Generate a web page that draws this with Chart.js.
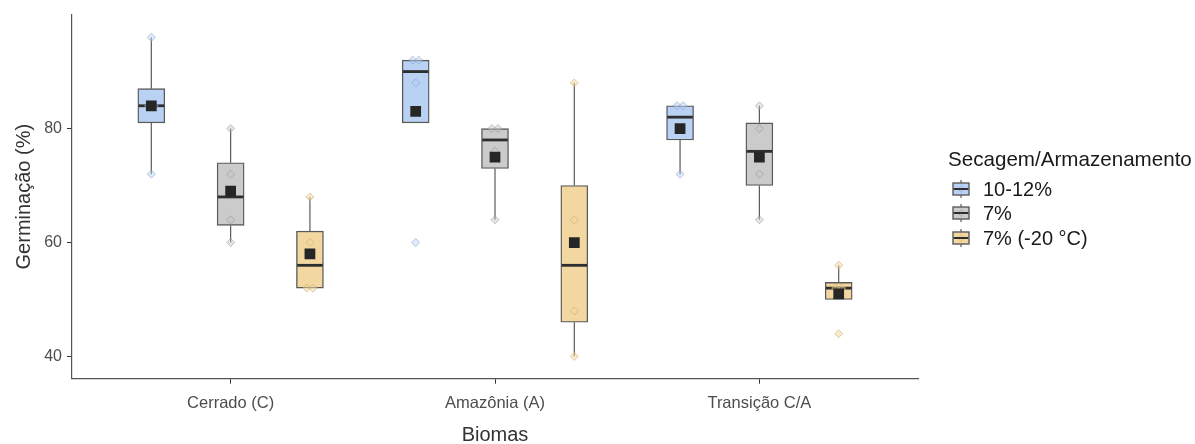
<!DOCTYPE html>
<html><head><meta charset="utf-8">
<script src="https://cdn.jsdelivr.net/npm/chart.js@4"></script>
<style>
body{margin:0;background:#fff;}
#wrap{position:relative;width:1195px;height:444px;}
#legend{position:absolute;left:0;top:0;width:1195px;height:444px;pointer-events:none;font-family:'Liberation Sans',Arial,sans-serif;}
.ltitle{position:absolute;left:948px;top:147px;font-size:20.6px;line-height:24px;color:#1a1a1a;white-space:nowrap;}
.lrow{position:absolute;left:951px;height:22px;display:flex;align-items:center;white-space:nowrap;font-size:20px;color:#1a1a1a;}
.lrow svg{margin-right:12px;}
</style></head><body>
<div id="wrap"><canvas id="c" width="1195" height="444"></canvas><div id="legend"></div></div>
<script>
// ---- data ----
const categories = ['Cerrado (C)', 'Amazônia (A)', 'Transição C/A'];
const seriesNames = ['10-12%', '7%', '7% (-20 °C)'];
const yTicks = [40, 60, 80];

// individual observations (diamonds), per biome
const obs1012 = [[72, 84, 84, 96], [60, 88, 92, 92], [72, 80, 84, 84]];
const obs7    = [[60, 64, 72, 80], [64, 76, 80, 80], [64, 72, 80, 84]];
const obs7m20 = [[52, 52, 60, 68], [40, 48, 64, 88], [44, 52, 52, 56]];

// box statistics, per biome
const low1012 = [72, 81, 72], q1_1012 = [81, 81, 78], med1012 = [84, 90, 82], q3_1012 = [87, 92, 84], high1012 = [96, 92, 84], mean1012 = [84, 83, 80];
const low7    = [60, 64, 64], q1_7    = [63, 73, 70], med7    = [68, 78, 76], q3_7    = [74, 80, 81], high7    = [80, 80, 84], mean7    = [69, 75, 75];
const low7m20 = [52, 40, 50], q1_7m20 = [52, 46, 50], med7m20 = [56, 56, 52], q3_7m20 = [62, 70, 53], high7m20 = [68, 88, 56], mean7m20 = [58, 60, 51];

// ---- styling ----
const fills   = ['#b9d2f3', '#cbcbcb', '#f2d7a1'];
const ptFill  = ['rgba(185,210,243,0.45)', 'rgba(200,200,200,0.45)', 'rgba(242,215,161,0.5)'];
const ptLine  = ['rgba(120,150,200,0.5)', 'rgba(130,130,130,0.45)', 'rgba(205,165,95,0.55)'];
const seriesOffset = [-0.3, 0, 0.3];
const dodgeStep = 0.023;

const series = [
  {obs: obs1012, low: low1012, q1: q1_1012, med: med1012, q3: q3_1012, high: high1012, mean: mean1012},
  {obs: obs7, low: low7, q1: q1_7, med: med7, q3: q3_7, high: high7, mean: mean7},
  {obs: obs7m20, low: low7m20, q1: q1_7m20, med: med7m20, q3: q3_7m20, high: high7m20, mean: mean7m20}
];

function xPos(ci, si) { return ci + 1 + seriesOffset[si]; }

const datasets = [];
series.forEach((s, si) => {
  datasets.push({
    type: 'bar', label: seriesNames[si], grouped: false, barThickness: 27,
    data: categories.map((c, ci) => ({x: xPos(ci, si), y: [s.q1[ci], s.q3[ci]]})),
    backgroundColor: fills[si], borderColor: '#5a5a5a', borderWidth: 1.4, borderSkipped: false,
    order: 3, boxStats: s
  });
});
series.forEach((s, si) => {
  const pts = [];
  s.obs.forEach((vals, ci) => {
    const counts = {};
    vals.forEach(v => { counts[v] = (counts[v] || 0) + 1; });
    const seen = {};
    vals.forEach(v => {
      const n = counts[v]; const k = seen[v] || 0; seen[v] = k + 1;
      pts.push({x: xPos(ci, si) + (k - (n - 1) / 2) * dodgeStep, y: v});
    });
  });
  datasets.push({
    type: 'scatter', label: seriesNames[si] + ' obs', data: pts,
    pointStyle: 'rectRot', pointRadius: 4, pointBorderWidth: 1,
    backgroundColor: ptFill[si], borderColor: ptLine[si], order: 2
  });
});
series.forEach((s, si) => {
  datasets.push({
    type: 'scatter', label: seriesNames[si] + ' mean',
    data: categories.map((c, ci) => ({x: xPos(ci, si), y: s.mean[ci]})),
    pointStyle: 'rect', pointRadius: 7.6, pointBorderWidth: 0,
    backgroundColor: '#262626', borderColor: '#262626', order: 1
  });
});

const boxExtras = {
  id: 'boxExtras',
  beforeDatasetsDraw(chart) {
    const ctx = chart.ctx, ys = chart.scales.y;
    chart.data.datasets.forEach((ds, di) => {
      if (!ds.boxStats) return;
      const s = ds.boxStats;
      const meta = chart.getDatasetMeta(di);
      ctx.save();
      ctx.strokeStyle = '#5a5a5a'; ctx.lineWidth = 1.2;
      meta.data.forEach((bar, i) => {
        ctx.beginPath();
        ctx.moveTo(bar.x, ys.getPixelForValue(s.high[i]));
        ctx.lineTo(bar.x, ys.getPixelForValue(s.q3[i]));
        ctx.moveTo(bar.x, ys.getPixelForValue(s.q1[i]));
        ctx.lineTo(bar.x, ys.getPixelForValue(s.low[i]));
        ctx.stroke();
      });
      ctx.restore();
    });
  },
  afterDatasetDraw(chart, args) {
    const ds = chart.data.datasets[args.index];
    if (!ds.boxStats) return;
    const s = ds.boxStats, ctx = chart.ctx, ys = chart.scales.y;
    ctx.save();
    ctx.strokeStyle = '#2e2e2e'; ctx.lineWidth = 2.8;
    args.meta.data.forEach((bar, i) => {
      const y = ys.getPixelForValue(s.med[i]);
      ctx.beginPath();
      ctx.moveTo(bar.x - bar.width / 2 + 0.7, y);
      ctx.lineTo(bar.x + bar.width / 2 - 0.7, y);
      ctx.stroke();
    });
    ctx.restore();
  }
};

const ff = "'Liberation Sans', Arial, sans-serif";

new Chart(document.getElementById('c'), {
  data: {datasets},
  options: {
    responsive: false, animation: false, events: [],
    layout: {padding: {top: 13, right: 277, left: 0, bottom: 0}},
    plugins: {legend: {display: false}, tooltip: {enabled: false}},
    scales: {
      x: {
        type: 'linear', min: 0.4, max: 3.6, offset: false,
        afterBuildTicks: sc => { sc.ticks = categories.map((c, i) => ({value: i + 1})); },
        afterFit: sc => { sc.height = 65.3; },
        ticks: {callback: v => categories[Math.round(v) - 1], font: {family: ff, size: 16.5}, color: '#4d4d4d', padding: 10, maxRotation: 0, autoSkip: false},
        grid: {offset: false, drawOnChartArea: false, drawTicks: true, tickLength: 5, tickColor: '#333', tickWidth: 1},
        border: {display: true, color: '#555', width: 1.2},
        title: {display: true, text: 'Biomas', font: {family: ff, size: 20}, color: '#333', padding: {top: 0, bottom: -3}}
      },
      y: {
        type: 'linear', min: 36.1, max: 100,
        afterBuildTicks: sc => { sc.ticks = yTicks.map(v => ({value: v})); },
        afterFit: sc => { sc.width = 72; },
        ticks: {font: {family: ff, size: 16}, color: '#4d4d4d', padding: 5},
        grid: {drawOnChartArea: false, drawTicks: true, tickLength: 5, tickColor: '#333', tickWidth: 1},
        border: {display: true, color: '#555', width: 1.2},
        title: {display: true, text: 'Germinação (%)', font: {family: ff, size: 20}, color: '#333', padding: {top: 12, bottom: 0}}
      }
    }
  },
  plugins: [boxExtras]
});

// ---- legend ----
const legend = document.getElementById('legend');
const t = document.createElement('div');
t.className = 'ltitle'; t.textContent = 'Secagem/Armazenamento';
legend.appendChild(t);
const rowCenters = [189, 213, 238];
seriesNames.forEach((name, si) => {
  const row = document.createElement('div');
  row.className = 'lrow';
  row.style.top = (rowCenters[si] - 11) + 'px';
  row.innerHTML =
    '<svg width="20" height="20" viewBox="0 0 20 20">' +
    '<line x1="10" y1="1" x2="10" y2="19" stroke="#5a5a5a" stroke-width="1.2"/>' +
    '<rect x="2" y="4" width="16" height="12" fill="' + fills[si] + '" stroke="#5a5a5a" stroke-width="1.4"/>' +
    '<polygon points="10,6.5 13,10 10,13.5 7,10" fill="' + ptFill[si] + '" stroke="' + ptLine[si] + '" stroke-width="0.8"/>' +
    '<line x1="2.7" y1="10" x2="17.3" y2="10" stroke="#2e2e2e" stroke-width="2"/>' +
    '</svg><span>' + name + '</span>';
  legend.appendChild(row);
});
</script>
</body></html>
